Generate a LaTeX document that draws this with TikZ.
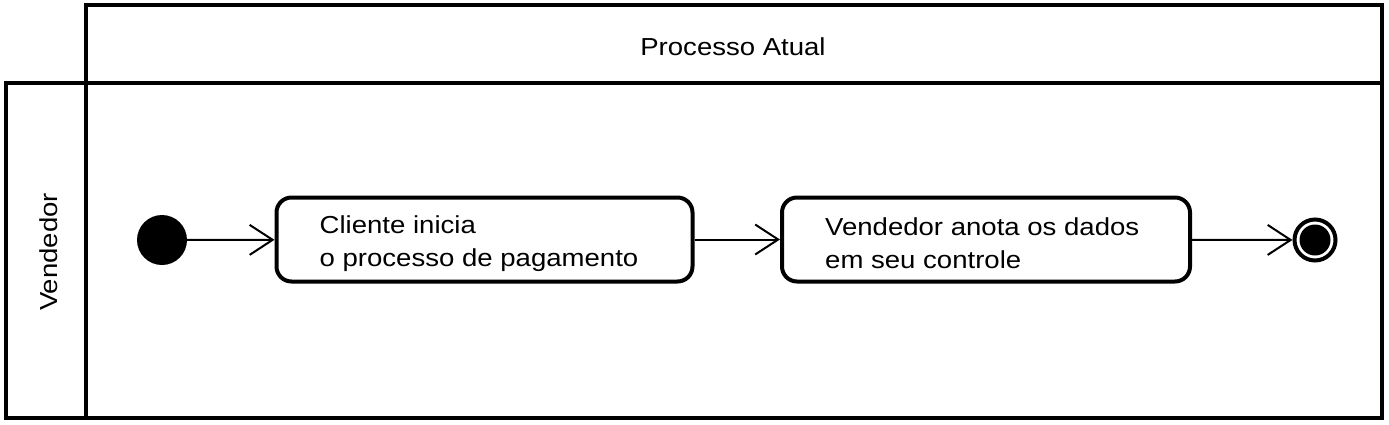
\documentclass[tikz,border=0pt]{standalone}
\usepackage{fontspec}
\newfontfamily\lab[FakeStretch=1.12]{Liberation Sans}
\usetikzlibrary{arrows.meta}
\begin{document}
\begin{tikzpicture}[x=1pt,y=-1pt,
  frame/.style={line width=4pt, line join=miter},
  act/.style={draw, line width=4pt, rounded corners=15pt, minimum height=84pt, inner sep=0pt},
  lbl/.style={font=\lab\fontsize{24.6}{33}\selectfont, align=left, inner sep=0pt},
  flow/.style={line width=2pt, -{Straight Barb[length=23pt,width=30pt,line width=2pt]}},
  startst/.style={circle, fill=black, minimum size=50pt, inner sep=0pt},
  endst/.style={circle, draw, line width=4pt, minimum size=41pt, inner sep=0pt}
]
\useasboundingbox (0,0) rectangle (1389,424);
% frame
\draw[frame] (86,5) rectangle (1382,83);
\draw[frame] (6,83) rectangle (1382,418);
\draw[frame] (86,83) -- (86,418);
\node[lbl] (title) at (733,47) {Processo Atual};
\node[lbl, rotate=90] (lane) at (49,252) {Vendedor};
% states
\node[startst] (start) at (162,240) {};
\node[act, minimum width=416pt] (a1) at (484.5,239.5) {};
\node[act, minimum width=408pt] (a2) at (986,239.5) {};
\node[endst] (end) at (1315,240) {};
\fill (end.center) circle (15.5pt);
\node[lbl, anchor=west] (t1) at ([xshift=45pt,yshift=-4pt]a1.west) {Cliente inicia\\o processo de pagamento};
\node[lbl, anchor=west] (t2) at ([xshift=45pt,yshift=-4pt]a2.west) {Vendedor anota os dados\\em seu controle};
% flows
\draw[flow] (start) -- (a1);
\draw[flow] (a1) -- (a2);
\draw[flow] (a2) -- (end);
\end{tikzpicture}
\end{document}
